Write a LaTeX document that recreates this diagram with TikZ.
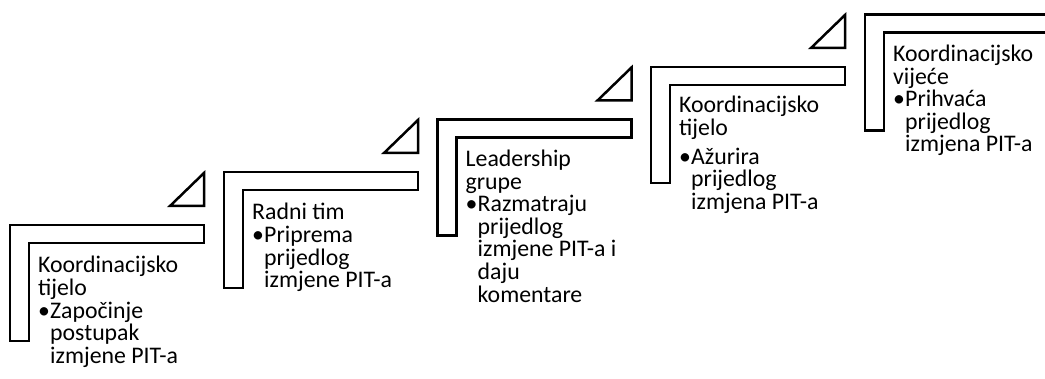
\documentclass[tikz,border=0pt]{standalone}
\usepackage{fontspec}
\setmainfont{Carlito}
\usetikzlibrary{calc}
% one text line, a bulleted line, and a continuation line under a bullet
\newcommand\tline[1]{\hbox{#1}}
\newcommand\bline[1]{\hbox{\makebox[12pt][l]{•}#1}}
\newcommand\iline[1]{\hbox{\hspace*{12pt}#1}}
% a stack of lines whose baseline is the first line's baseline
\newcommand\stack[1]{\vtop{\baselineskip=22.6pt\lineskiplimit=-100pt\lineskip=0pt #1}}
\tikzset{
  outline/.style={draw=black, line width=2.5pt, fill=white, line join=miter},
  steptext/.style={anchor=base west, inner sep=0pt, font=\fontsize{23.8}{22.6}\selectfont, text=black},
}
% corner step: outer left #1, outer top #2, name #3
\newcommand\corner[3]{%
  \draw[outline] (#1,#2) -- ++(194,0) -- ++(0,18) -- ++(-175,0) -- ++(0,98) -- ++(-19,0) -- cycle;
  \coordinate (#3) at (#1+19,#2+18);
}
% small triangle above the right end of a step
\newcommand\wedgemark[3]{%
  \draw[outline] (#1+160,#2-19) -- (#1+194,#2-19) -- (#1+194,#2-52) -- cycle;
  \coordinate (#3) at (#1+194,#2-52);
}
\begin{document}
\begin{tikzpicture}[x=1pt,y=-1pt]
  \useasboundingbox (0,0) rectangle (1045,379);
  \begin{scope}
    \clip (0,0) rectangle (1045,379);
    \corner{10}{225}{in1}
    \wedgemark{10}{225}{tip1}
    \corner{224}{172}{in2}
    \wedgemark{224}{172}{tip2}
    \corner{437.5}{119.5}{in3}
    \wedgemark{437.5}{119.5}{tip3}
    \corner{651}{67}{in4}
    \wedgemark{651}{67}{tip4}
    \corner{865}{14.5}{in5}

    \node[steptext] (t1) at ($(in1)+(9,30)$) {\stack{\tline{Koordinacijsko}\tline{tijelo}\bline{Započinje}\iline{postupak}\iline{izmjene PIT-a}}};
    \node[steptext] (t2) at ($(in2)+(9,30)$) {\stack{\tline{Radni tim}\bline{Priprema}\iline{prijedlog}\iline{izmjene PIT-a}}};
    \node[steptext] (t3) at ($(in3)+(9,29)$) {\stack{\tline{Leadership}\tline{grupe}\bline{Razmatraju}\iline{prijedlog}\iline{izmjene PIT-a i}\iline{daju}\iline{komentare}}};
    \node[steptext] (t4) at ($(in4)+(9,28)$) {\stack{\tline{Koordinacijsko}\tline{tijelo}\vskip 6pt\bline{Ažurira}\iline{prijedlog}\iline{izmjena PIT-a}}};
    \node[steptext] (t5) at ($(in5)+(9,29)$) {\stack{\tline{Koordinacijsko}\tline{vijeće}\bline{Prihvaća}\iline{prijedlog}\iline{izmjena PIT-a}}};
  \end{scope}
\end{tikzpicture}
\end{document}
